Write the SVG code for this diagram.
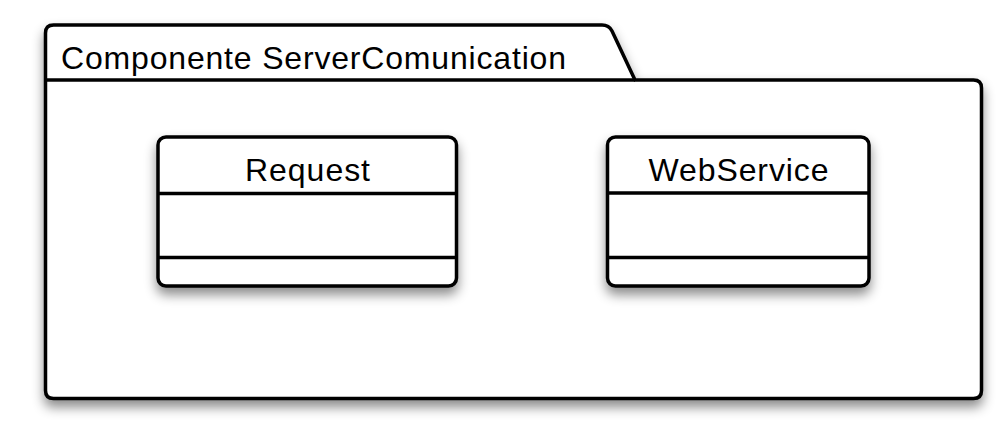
<svg xmlns="http://www.w3.org/2000/svg" width="1005" height="431" viewBox="0 0 1005 431">
  <defs>
    <filter id="shadow" x="-10%" y="-10%" width="120%" height="130%">
      <feDropShadow dx="0" dy="7" stdDeviation="6" flood-color="#000" flood-opacity="0.45"/>
    </filter>
  </defs>
  <style>
    .shape { fill: #ffffff; stroke: #000000; stroke-width: 3.5; stroke-linejoin: round; }
    .line { fill: none; stroke: #000000; stroke-width: 3.5; }
    .label { font-family: "Liberation Sans", Arial, Helvetica, sans-serif; font-size: 32px; fill: #000000; }
  </style>
  <rect width="1005" height="431" fill="#ffffff"/>
  <g id="package-ServerComunication">
    <path class="shape" filter="url(#shadow)" d="M45.5,80 V33 Q45.5,25 53.5,25 H602 Q609,25 612,31 L635,80 H973.5 Q981.5,80 981.5,88 V390.5 Q981.5,398.5 973.5,398.5 H53.5 Q45.5,398.5 45.5,390.5 Z"/>
    <path class="line" d="M45.5,80 H635"/>
    <text class="label" x="61" y="69" textLength="505" lengthAdjust="spacing">Componente ServerComunication</text>
  </g>
  <g id="class-Request">
    <rect class="shape" filter="url(#shadow)" x="158" y="137" width="298.5" height="149" rx="8" ry="8"/>
    <path class="line" d="M158,193.5 H456.5 M158,257.5 H456.5"/>
    <text class="label" x="307.5" y="181" text-anchor="middle" textLength="125" lengthAdjust="spacing">Request</text>
  </g>
  <g id="class-WebService">
    <rect class="shape" filter="url(#shadow)" x="607.5" y="137" width="261.5" height="149" rx="8" ry="8"/>
    <path class="line" d="M607.5,193 H869 M607.5,257.5 H869"/>
    <text class="label" x="738.5" y="181" text-anchor="middle" textLength="180" lengthAdjust="spacing">WebService</text>
  </g>
  <g id="connectors"></g>
</svg>
